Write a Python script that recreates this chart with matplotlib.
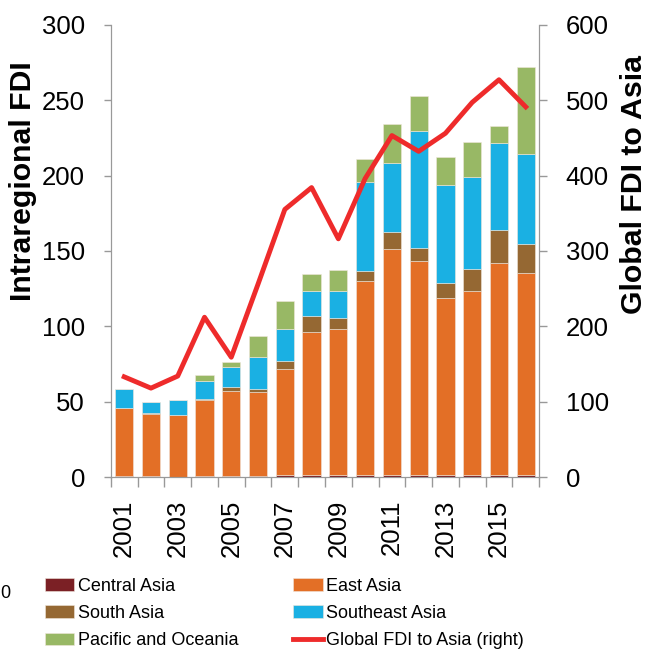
import matplotlib.pyplot as plt
import numpy as np

plt.rcParams['font.family'] = ['Liberation Sans', 'DejaVu Sans']

# datos
years = [str(y) for y in range(2001, 2017)]
central_asia = [0.5, 0.5, 0.3, 0.5, 0.8, 1.0, 1.2, 1.5, 1.2, 1.5, 1.5, 1.5, 1.5, 1.5, 1.5, 1.5]
east_asia = [45.5, 41.3, 40.8, 50.6, 56.3, 55.2, 70.3, 94.8, 97.0, 128.3, 149.6, 141.8, 117.1, 121.9, 140.5, 134.1]
south_asia = [0.0, 0.5, 0.3, 0.5, 2.6, 2.2, 5.7, 10.3, 7.5, 7.1, 11.7, 8.4, 9.9, 14.6, 21.7, 19.0]
southeast_asia = [12.2, 7.3, 9.5, 12.3, 13.5, 21.4, 20.8, 17.1, 17.9, 58.8, 45.3, 77.9, 65.5, 61.3, 57.7, 59.5]
pacific = [0.0, 0.0, 0.3, 3.6, 2.9, 13.8, 18.8, 10.8, 13.8, 15.3, 25.9, 23.4, 18.1, 22.8, 11.3, 57.9]
global_fdi = [133, 118, 134, 212, 159, 256, 355, 384, 316, 396, 453, 432, 456, 497, 527, 491]

series = [
    ('Central Asia', central_asia, '#7B2025'),
    ('East Asia', east_asia, '#E36F26'),
    ('South Asia', south_asia, '#956833'),
    ('Southeast Asia', southeast_asia, '#1AB0E3'),
    ('Pacific and Oceania', pacific, '#98B865'),
]

fig = plt.figure(figsize=(6.48, 6.5), dpi=100)
ax = fig.add_axes([0.171, 0.266, 0.661, 0.696])
x = np.arange(len(years))

handles = {}
bottom = np.zeros(len(years))
for name, vals, col in series:
    b = ax.bar(x, vals, 0.68, bottom=bottom, color=col, edgecolor='#f0e6dc', linewidth=0.4, label=name)
    handles[name] = b
    bottom += np.array(vals)

ax.set_xlim(-0.5, len(years) - 0.5)
ax.set_ylim(0, 300)
ax.set_yticks([0, 50, 100, 150, 200, 250, 300])
ax.set_xticks(x[::2])
ax.set_xticklabels(years[::2], rotation=90, fontsize=18.5)
ax.set_xticks(np.arange(-0.5, len(years), 1), minor=True)
ax.tick_params(axis='x', which='major', length=0, pad=16)
ax.tick_params(axis='x', which='minor', length=7, color='#999999', width=1)
ax.tick_params(axis='y', labelsize=18.5, length=5, color='#999999', width=1, pad=13.5)
ax.spines['top'].set_visible(False)
for s in ['left', 'bottom', 'right']:
    ax.spines[s].set_color('#999999')

ax2 = ax.twinx()
line, = ax2.plot(x, global_fdi, color='#EE2B2B', linewidth=3.5, label='Global FDI to Asia (right)')
ax2.set_ylim(0, 600)
ax2.set_yticks([0, 100, 200, 300, 400, 500, 600])
ax2.tick_params(axis='y', labelsize=18.5, length=6, color='#999999', width=1, pad=13)
ax2.spines['top'].set_visible(False)
for s in ['left', 'bottom', 'right']:
    ax2.spines[s].set_color('#999999')

# titulos de ejes
fig.text(23 / 648, 1 - 181 / 650, 'Intraregional FDI', rotation=90, fontsize=21.8,
         fontweight='bold', ha='center', va='center')
fig.text(634 / 648, 1 - 185 / 650, 'Global FDI to Asia', rotation=90, fontsize=21.8,
         fontweight='bold', ha='center', va='center')

# leyenda
order = [handles['Central Asia'], handles['South Asia'], handles['Pacific and Oceania'],
         handles['East Asia'], handles['Southeast Asia'], line]
labels = ['Central Asia', 'South Asia', 'Pacific and Oceania',
          'East Asia', 'Southeast Asia', 'Global FDI to Asia (right)']
fig.legend(order, labels, ncol=2, loc='upper left', bbox_to_anchor=(0.055, 0.125),
           frameon=False, fontsize=13, handlelength=1.65, handleheight=0.7,
           handletextpad=0.2, columnspacing=3.0, labelspacing=0.57, borderpad=0)

fig.text(0.0, 0.087, '0', fontsize=13, va='center')

plt.savefig('out.png', dpi=100)
